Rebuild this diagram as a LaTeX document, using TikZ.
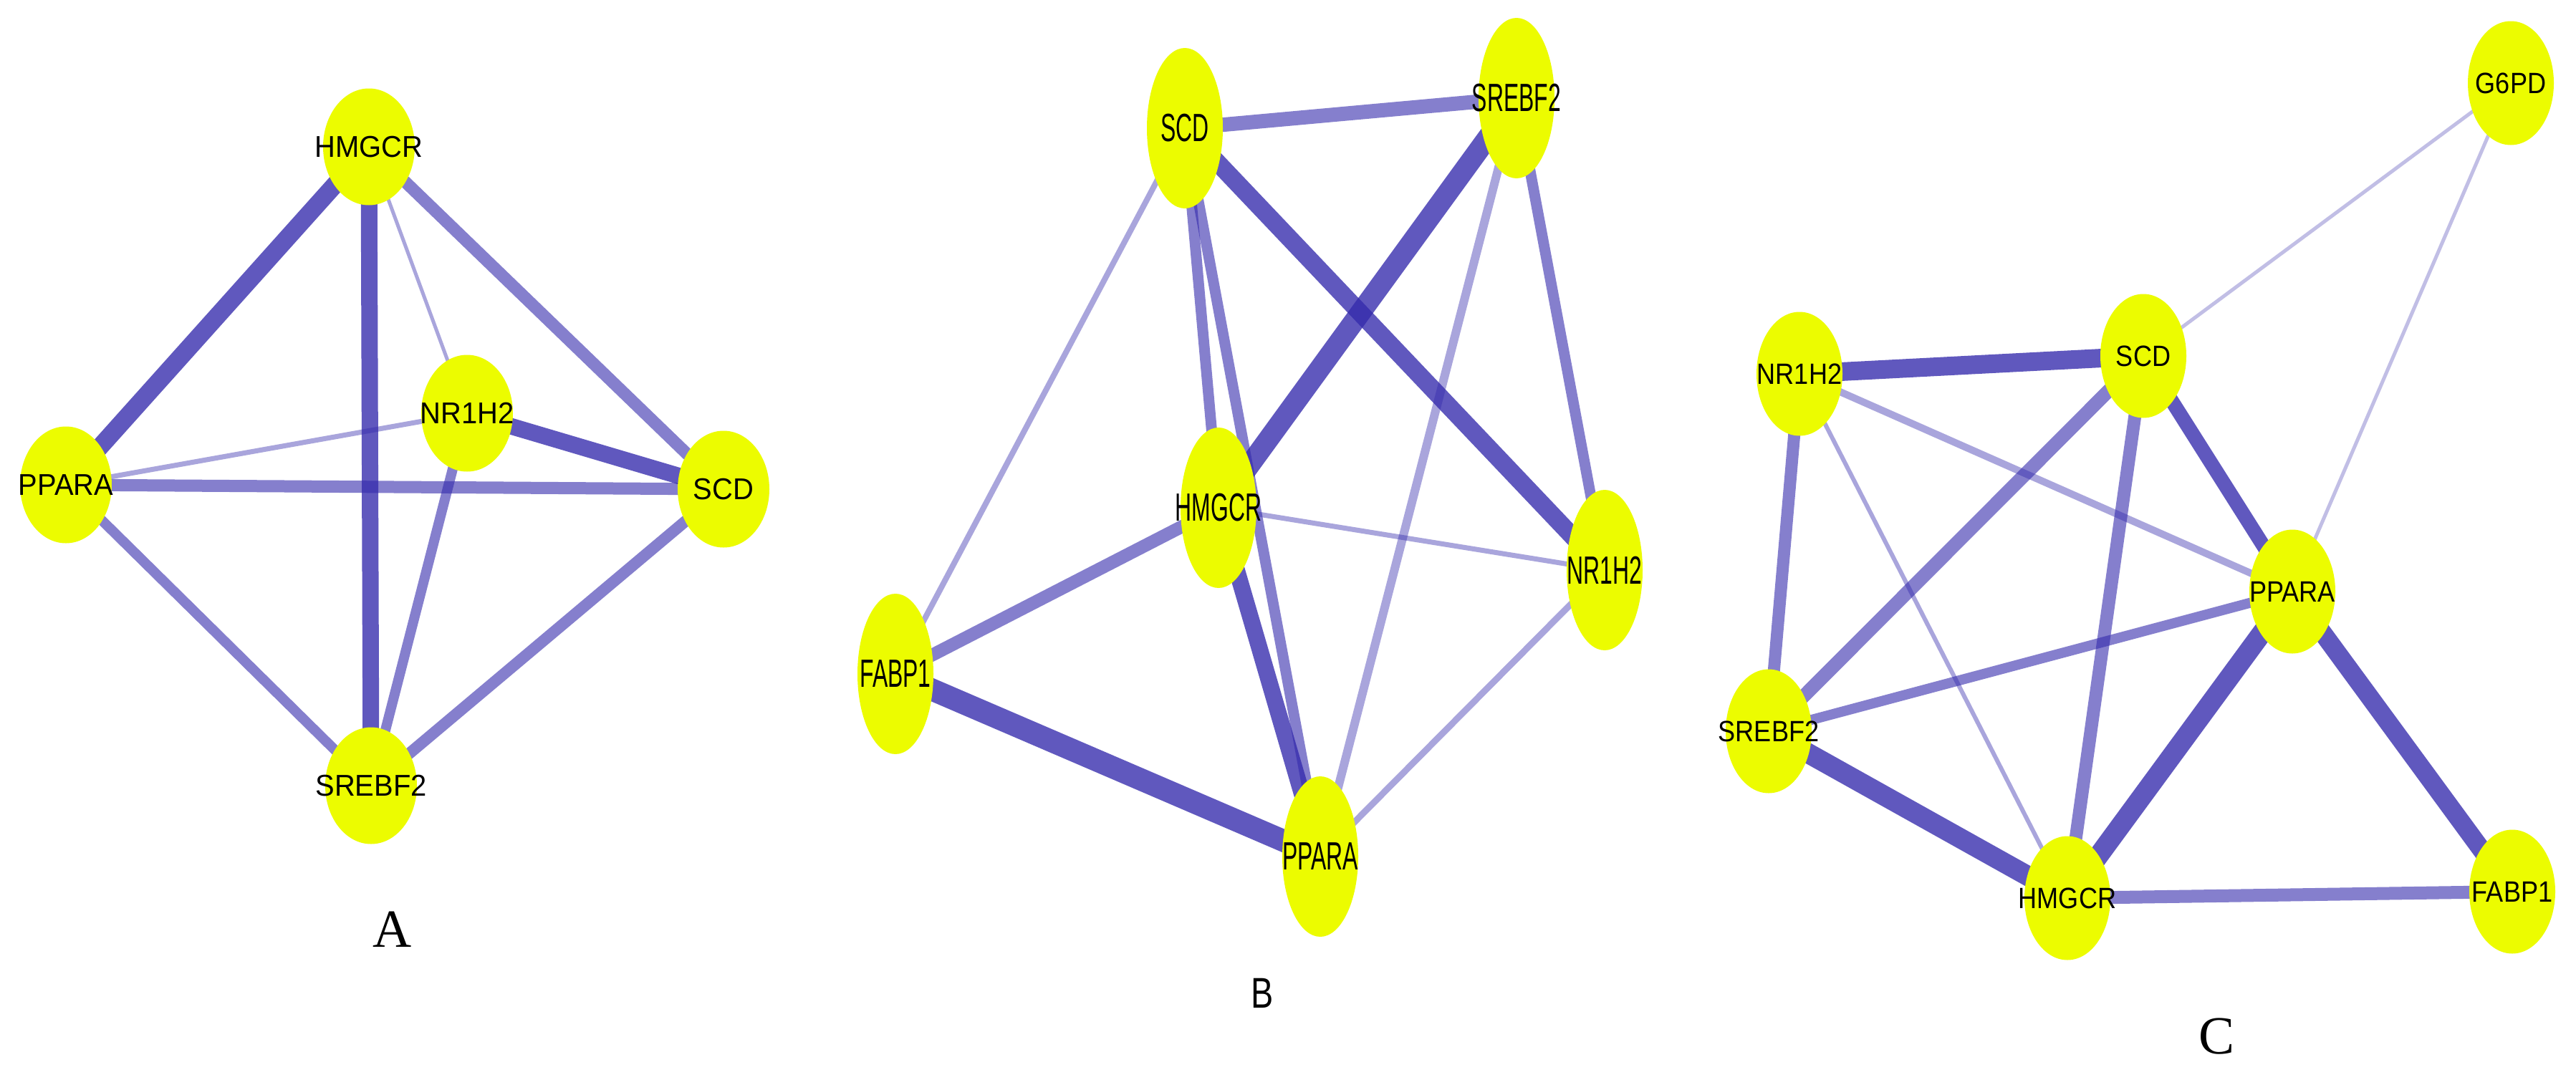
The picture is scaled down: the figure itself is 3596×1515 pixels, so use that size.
\documentclass[tikz,border=0pt]{standalone}
\usepackage{fontspec}
\usepackage{graphicx}
\usetikzlibrary{shapes.geometric}
\newfontfamily\lsans{Liberation Sans}
\newfontfamily\lserif{Liberation Serif}
\definecolor{ylw}{RGB}{236,252,0}
\definecolor{edgec}{RGB}{52,42,172}
\pgfdeclarelayer{back}
\pgfdeclarelayer{bg}
\pgfsetlayers{back,bg,main}
\newcommand\sqz[2]{\makebox[0pt]{\scalebox{#1}[1]{#2}}}
\begin{document}
\begin{tikzpicture}[x=1pt,y=-1pt,
  gA/.style={ellipse, fill=ylw, inner sep=0pt, minimum width=128pt, minimum height=163pt, font=\lsans\fontsize{42}{42}\selectfont},
  gB/.style={ellipse, fill=ylw, inner sep=0pt, minimum width=106pt, minimum height=224pt, font=\lsans\fontsize{55}{55}\selectfont},
  gC/.style={ellipse, fill=ylw, inner sep=0pt, minimum width=120pt, minimum height=173pt, font=\lsans\fontsize{41}{41}\selectfont},
  dk/.style={draw=edgec, draw opacity=0.78},
  md/.style={draw=edgec, draw opacity=0.6},
  lt/.style={draw=edgec, draw opacity=0.42},
  vlt/.style={draw=edgec, draw opacity=0.3},
  panellab/.style={inner sep=0pt}
  ]
\begin{pgfonlayer}{back}
\fill[white] (0,0) rectangle (3596,1515);
\end{pgfonlayer}
\useasboundingbox (0,0) rectangle (3596,1515);

% ---------- Panel A ----------
\node[gA] (aH) at (515,205) {\sqz{0.95}{HMGCR}};
\node[gA] (aN) at (652,577) {\sqz{0.95}{NR1H2}};
\node[gA] (aP) at (92,677) {\sqz{0.95}{PPARA}};
\node[gA] (aS) at (1010,683) {\sqz{0.95}{SCD}};
\node[gA] (aR) at (518,1097) {\sqz{0.95}{SREBF2}};
\node[panellab, font=\lserif\fontsize{75}{75}\selectfont] (labA) at (548,1298) {A};

% ---------- Panel B ----------
\node[gB] (bS) at (1654,179) {\sqz{0.58}{SCD}};
\node[gB] (bR) at (2117,137) {\sqz{0.58}{SREBF2}};
\node[gB] (bH) at (1701,709) {\sqz{0.58}{HMGCR}};
\node[gB] (bN) at (2240,796) {\sqz{0.58}{NR1H2}};
\node[gB] (bF) at (1250,941) {\sqz{0.58}{FABP1}};
\node[gB] (bP) at (1843,1196) {\sqz{0.58}{PPARA}};
\node[panellab, font=\lsans\fontsize{60}{60}\selectfont] (labB) at (1762,1387) {\sqz{0.78}{B}};

% ---------- Panel C ----------
\node[gC] (cG) at (3505,116) {\sqz{0.88}{G6PD}};
\node[gC] (cN) at (2512,522) {\sqz{0.88}{NR1H2}};
\node[gC] (cS) at (2992,497) {\sqz{0.88}{SCD}};
\node[gC] (cP) at (3200,826) {\sqz{0.88}{PPARA}};
\node[gC] (cR) at (2469,1021) {\sqz{0.88}{SREBF2}};
\node[gC] (cH) at (2886,1254) {\sqz{0.88}{HMGCR}};
\node[gC] (cF) at (3507,1245) {\sqz{0.88}{FABP1}};
\node[panellab, font=\lserif\fontsize{75}{75}\selectfont] (labC) at (3094,1447) {C};

\begin{pgfonlayer}{bg}
% Panel A edges
\draw[dk, line width=25pt] (aH.center) -- (aP.center);
\draw[dk, line width=23pt] (aH.center) -- (aR.center);
\draw[md, line width=17pt] (aH.center) -- (aS.center);
\draw[lt, line width=5pt] (aH.center) -- (aN.center);
\draw[lt, line width=7pt] (aP.center) -- (aN.center);
\draw[md, line width=17pt] (aP.center) -- (aS.center);
\draw[dk, line width=23pt] (aN.center) -- (aS.center);
\draw[md, line width=14pt] (aP.center) -- (aR.center);
\draw[md, line width=16pt] (aS.center) -- (aR.center);
\draw[md, line width=14pt] (aN.center) -- (aR.center);
% Panel B edges
\draw[md, line width=20pt] (bS.center) -- (bR.center);
\draw[dk, line width=25pt] (bS.center) -- (bN.center);
\draw[md, line width=15pt] (bS.center) -- (bH.center);
\draw[md, line width=15pt] (bS.center) -- (bP.center);
\draw[lt, line width=8pt] (bS.center) -- (bF.center);
\draw[dk, line width=29pt] (bR.center) -- (bH.center);
\draw[lt, line width=12pt] (bR.center) -- (bP.center);
\draw[md, line width=15pt] (bR.center) -- (bN.center);
\draw[lt, line width=7pt] (bH.center) -- (bN.center);
\draw[md, line width=18pt] (bH.center) -- (bF.center);
\draw[dk, line width=23pt] (bH.center) -- (bP.center);
\draw[dk, line width=31pt] (bF.center) -- (bP.center);
\draw[lt, line width=9pt] (bN.center) -- (bP.center);
% Panel C edges
\draw[vlt, line width=5pt] (cG.center) -- (cS.center);
\draw[vlt, line width=5pt] (cG.center) -- (cP.center);
\draw[dk, line width=26pt] (cN.center) -- (cS.center);
\draw[lt, line width=10pt] (cN.center) -- (cP.center);
\draw[lt, line width=6pt] (cN.center) -- (cH.center);
\draw[md, line width=17pt] (cN.center) -- (cR.center);
\draw[md, line width=19pt] (cS.center) -- (cR.center);
\draw[md, line width=18pt] (cS.center) -- (cH.center);
\draw[dk, line width=20pt] (cS.center) -- (cP.center);
\draw[md, line width=14pt] (cP.center) -- (cR.center);
\draw[dk, line width=28pt] (cP.center) -- (cH.center);
\draw[dk, line width=26pt] (cP.center) -- (cF.center);
\draw[dk, line width=28pt] (cR.center) -- (cH.center);
\draw[md, line width=18pt] (cH.center) -- (cF.center);
\end{pgfonlayer}
\end{tikzpicture}
\end{document}
